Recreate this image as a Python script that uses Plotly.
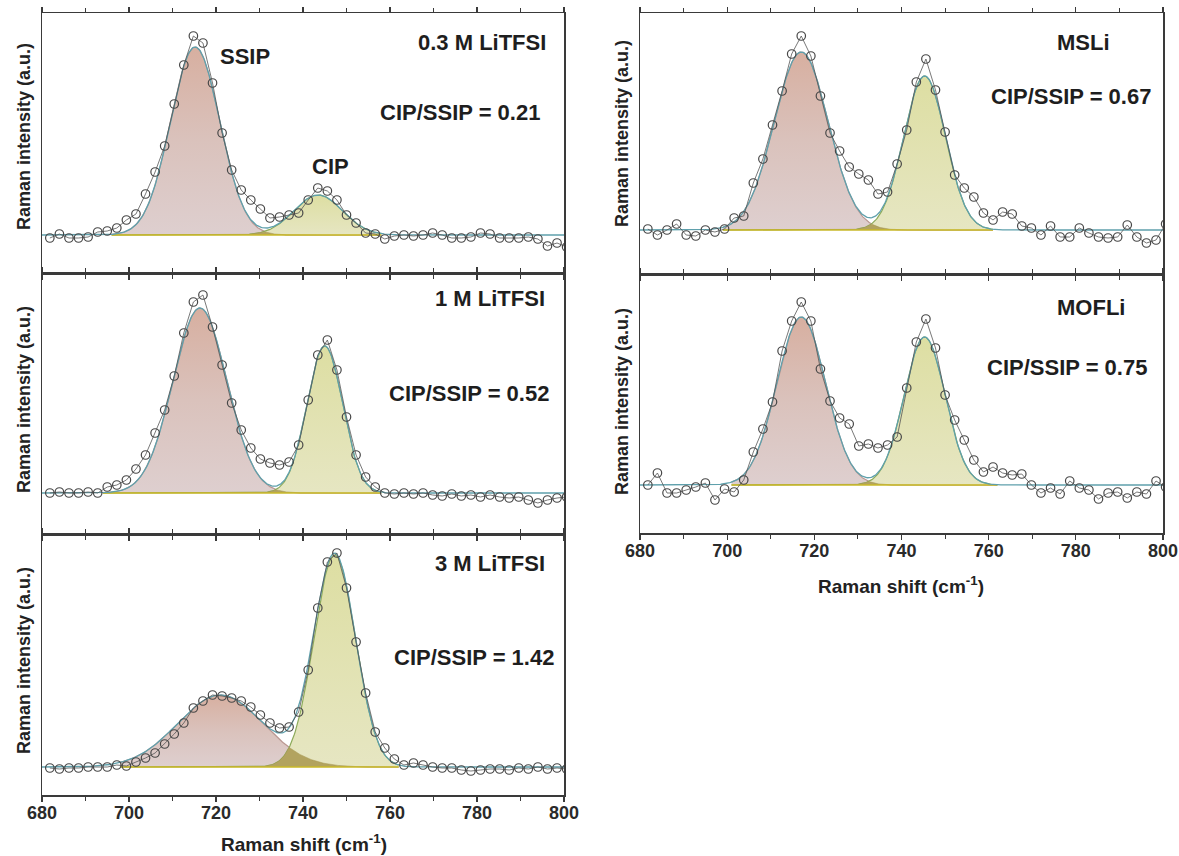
import numpy as np
import plotly.graph_objects as go

# The figure fills the whole 1179x856 window (body margin removed after plotting).
OFF = 0
FW, FH = 1179, 856

# ---------------- data ----------------
raman_shift = [681.8, 684.0, 686.2, 688.4, 690.6, 692.8, 695.0, 697.2, 699.4, 701.6,
               703.8, 706.0, 708.2, 710.4, 712.6, 714.8, 717.0, 719.2, 721.4, 723.6,
               725.8, 728.0, 730.2, 732.4, 734.6, 736.8, 739.0, 741.2, 743.4, 745.6,
               747.8, 750.0, 752.2, 754.4, 756.6, 758.8, 761.0, 763.2, 765.4, 767.6,
               769.8, 772.0, 774.2, 776.4, 778.6, 780.8, 783.0, 785.2, 787.4, 789.6,
               791.8, 794.0, 796.2, 798.4, 800.6]

int_03M = [-3, 1, -3, -3, -2, 3, 4, 7, 15, 21,
           41, 63, 89, 131, 170, 199, 192, 152, 102, 65,
           45, 35, 26, 17, 18, 20, 22, 35, 47, 44,
           35, 20, 12, 2, 1, -4, -1, 0, -1, 0,
           2, 0, -3, -3, -2, 2, 1, -3, -3, -3,
           -2, -4, -11, -8, -12]

int_1M = [0, 1, 0, 0, 1, 0, 6, 8, 13, 24,
          38, 60, 83, 117, 160, 191, 198, 166, 128, 90,
          63, 45, 34, 30, 28, 31, 48, 93, 138, 153,
          123, 76, 38, 16, 6, 0, -1, 0, -1, 0,
          -2, -3, -1, -3, -2, -4, -2, -4, -5, -4,
          -7, -10, -7, -5, -4]

int_3M = [-1, -2, -1, -1, 0, 0, 0, 2, 1, 5,
          9, 14, 23, 33, 44, 59, 66, 72, 71, 69,
          66, 60, 52, 44, 39, 40, 55, 97, 159, 205,
          214, 179, 125, 74, 35, 19, 8, 2, 4, 2,
          0, -1, -1, -3, -4, -3, -2, -2, -3, -1,
          -2, 0, -2, -1, -2]

int_MSLi = [1, -5, 0, 6, -5, -6, 0, -2, 1, 12,
            14, 47, 71, 105, 139, 176, 194, 174, 134, 97,
            79, 63, 56, 50, 36, 38, 66, 100, 148, 171,
            140, 98, 55, 42, 33, 17, 10, 18, 16, 4,
            2, -5, 4, -7, -7, 2, -3, -7, -8, -7,
            5, -7, -13, -10, 6]

int_MOFLi = [0, 12, -8, -8, -5, -2, 2, -15, -4, -7,
             5, 33, 56, 83, 134, 164, 183, 164, 116, 84,
             67, 61, 39, 41, 37, 40, 48, 97, 143, 166,
             137, 90, 65, 45, 25, 13, 18, 12, 10, 11,
             0, -8, -3, -9, 4, -3, -5, -14, -8, -7,
             -13, -7, -9, 4, -2]

sample_names = ["0.3 M LiTFSI", "1 M LiTFSI", "3 M LiTFSI", "MSLi", "MOFLi"]
ratio_labels = ["CIP/SSIP = 0.21", "CIP/SSIP = 0.52", "CIP/SSIP = 1.42",
                "CIP/SSIP = 0.67", "CIP/SSIP = 0.75"]
spectra = [int_03M, int_1M, int_3M, int_MSLi, int_MOFLi]

# Gaussian fit peaks (centre, height, sigma)
ssip_center = [715.2, 716.3, 721.0, 717.0, 717.0]
ssip_height = [188, 185, 72, 178, 168]
ssip_sigma = [5.65, 6.2, 9.8, 6.2, 5.6]
cip_center = [743.5, 745.0, 747.3, 745.3, 745.3]
cip_height = [40, 147, 212, 154, 148]
cip_sigma = [5.6, 4.1, 4.8, 4.8, 4.7]
comp_start = [696, 694, 698, 699, 701]
comp_end = [758, 758, 762, 761, 762]

# y-axis ranges (a.u., baseline = 0)
y_ranges = [[-38, 222], [-41, 220], [-28, 233], [-44, 217], [-48, 211]]
x_ticks = [680, 700, 720, 740, 760, 780, 800]

# ---------------- layout geometry (window pixels) ----------------
col_x = [(42, 564), (42, 564), (42, 564), (640, 1163), (640, 1163)]
row_y = [(13, 273), (273, 534), (534, 795), (13, 274), (274, 533)]
show_labels = [False, False, True, False, True]

FONT = "Liberation Sans, Arial, sans-serif"
FRAME = "#3a3a3a"


def px_x(p):
    return (p - OFF) / FW


def px_y(p):
    return 1 - (p - OFF) / FH


fig = go.Figure()


def gauss(x, c, h, s):
    return h * np.exp(-(x - c) ** 2 / (2 * s ** 2))


x_fine = np.linspace(680, 800, 601)

for i in range(5):
    xa = "x" if i == 0 else f"x{i+1}"
    ya = "y" if i == 0 else f"y{i+1}"
    xc = x_fine[(x_fine >= comp_start[i]) & (x_fine <= comp_end[i])]
    ssip = gauss(xc, ssip_center[i], ssip_height[i], ssip_sigma[i])
    cip = gauss(xc, cip_center[i], cip_height[i], cip_sigma[i])
    overlap = np.minimum(ssip, cip)
    envelope = gauss(x_fine, ssip_center[i], ssip_height[i], ssip_sigma[i]) + \
        gauss(x_fine, cip_center[i], cip_height[i], cip_sigma[i])

    fig.add_trace(go.Scatter(
        x=xc, y=ssip, xaxis=xa, yaxis=ya, mode="lines",
        line=dict(color="rgb(185,150,145)", width=1.2),
        fill="tozeroy",
        fillgradient=dict(type="vertical",
                          colorscale=[[0, "rgb(222,207,207)"], [0.5, "rgb(218,194,188)"],
                                      [1, "rgb(215,175,160)"]]),
        hoverinfo="skip", showlegend=False))
    fig.add_trace(go.Scatter(
        x=xc, y=cip, xaxis=xa, yaxis=ya, mode="lines",
        line=dict(color="rgb(140,170,90)", width=1.2),
        fill="tozeroy",
        fillgradient=dict(type="vertical",
                          colorscale=[[0, "rgb(230,230,194)"], [1, "rgb(221,222,162)"]]),
        hoverinfo="skip", showlegend=False))
    fig.add_trace(go.Scatter(
        x=xc, y=overlap, xaxis=xa, yaxis=ya, mode="lines",
        line=dict(color="rgb(165,150,80)", width=0.5),
        fill="tozeroy", fillcolor="rgb(178,163,95)",
        hoverinfo="skip", showlegend=False))
    # baseline of the fitted components
    fig.add_trace(go.Scatter(
        x=[xc[0], xc[-1]], y=[0, 0], xaxis=xa, yaxis=ya, mode="lines",
        line=dict(color="rgb(200,185,40)", width=1.6),
        hoverinfo="skip", showlegend=False))
    # cumulative fit
    fig.add_trace(go.Scatter(
        x=x_fine, y=envelope, xaxis=xa, yaxis=ya, mode="lines",
        line=dict(color="rgb(95,160,172)", width=1.3),
        hoverinfo="skip", showlegend=False))
    # measured spectrum
    fig.add_trace(go.Scatter(
        x=raman_shift, y=spectra[i], xaxis=xa, yaxis=ya, mode="lines+markers",
        line=dict(color="#555555", width=0.8),
        marker=dict(symbol="circle-open", size=8.5, color="#474747",
                    line=dict(width=1.2, color="#474747")),
        hoverinfo="skip", showlegend=False))

layout = dict(
    width=FW, height=FH, autosize=False,
    margin=dict(l=0, r=0, t=0, b=0, pad=0, autoexpand=False),
    paper_bgcolor="white", plot_bgcolor="white",
    font=dict(family=FONT, color="#222222"),
    showlegend=False, hovermode=False,
)

for i in range(5):
    xk = "xaxis" if i == 0 else f"xaxis{i+1}"
    yk = "yaxis" if i == 0 else f"yaxis{i+1}"
    ya = "y" if i == 0 else f"y{i+1}"
    xa = "x" if i == 0 else f"x{i+1}"
    x0, x1 = col_x[i]
    t, b = row_y[i]
    layout[xk] = dict(
        domain=[px_x(x0), px_x(x1)], anchor=ya, range=[680, 800], automargin=False,
        showgrid=False, zeroline=False,
        showline=True, linecolor=FRAME, linewidth=1.5, mirror="ticks",
        ticks="outside", ticklen=5, tickwidth=1.2, tickcolor=FRAME,
        tickvals=x_ticks, showticklabels=show_labels[i], ticklabelstandoff=-4,
        tickfont=dict(family=FONT, size=18, color="#2a2a2a", weight="bold"),
        minor=dict(dtick=10, tick0=680, ticks="outside", ticklen=4,
                   tickwidth=1.1, tickcolor=FRAME, showgrid=False),
    )
    layout[yk] = dict(
        domain=[px_y(b), px_y(t)], anchor=xa, range=y_ranges[i], automargin=False,
        showgrid=False, zeroline=False, showticklabels=False, ticks="",
        showline=True, linecolor=FRAME, linewidth=1.5, mirror=True,
    )

fig.update_layout(**layout)

ann = []
bold = dict(family=FONT, size=22, color="#1e1e1e")
name_pos = [(482, 42), (490, 298), (490, 563), (1083, 42), (1091, 307)]
ratio_pos = [(460, 112), (469, 393), (474, 657), (1071, 97), (1067, 367)]
for i in range(5):
    ann.append(dict(text="<b>" + sample_names[i] + "</b>", x=px_x(name_pos[i][0]),
                    y=px_y(name_pos[i][1]), xref="paper", yref="paper",
                    xanchor="center", yanchor="middle", showarrow=False, font=bold))
    ann.append(dict(text="<b>" + ratio_labels[i] + "</b>", x=px_x(ratio_pos[i][0]),
                    y=px_y(ratio_pos[i][1]), xref="paper", yref="paper",
                    xanchor="center", yanchor="middle", showarrow=False, font=bold))

ann.append(dict(text="<b>SSIP</b>", x=px_x(245), y=px_y(57), xref="paper", yref="paper",
                xanchor="center", yanchor="middle", showarrow=False, font=bold))
ann.append(dict(text="<b>CIP</b>", x=px_x(330), y=px_y(167), xref="paper", yref="paper",
                xanchor="center", yanchor="middle", showarrow=False, font=bold))

ytitle_pos = [(24, 137), (24, 400), (24, 661), (622, 134), (622, 402)]
for (xp, yp) in ytitle_pos:
    ann.append(dict(text="<b>Raman intensity (a.u.)</b>", x=px_x(xp), y=px_y(yp),
                    xref="paper", yref="paper", xanchor="center", yanchor="middle",
                    textangle=-90, showarrow=False,
                    font=dict(family=FONT, size=18, color="#222222")))

for (xp, yp) in [(304, 843), (901, 585)]:
    ann.append(dict(text="<b>Raman shift (cm<sup>-1</sup>)</b>", x=px_x(xp), y=px_y(yp),
                    xref="paper", yref="paper", xanchor="center", yanchor="middle",
                    showarrow=False, font=dict(family=FONT, size=19, color="#222222")))

fig.update_layout(annotations=ann)
fig.write_html("out.html",
               config={"displayModeBar": False, "staticPlot": True},
               post_script="document.body.style.margin='0px';"
                           "document.body.style.overflow='hidden';")
